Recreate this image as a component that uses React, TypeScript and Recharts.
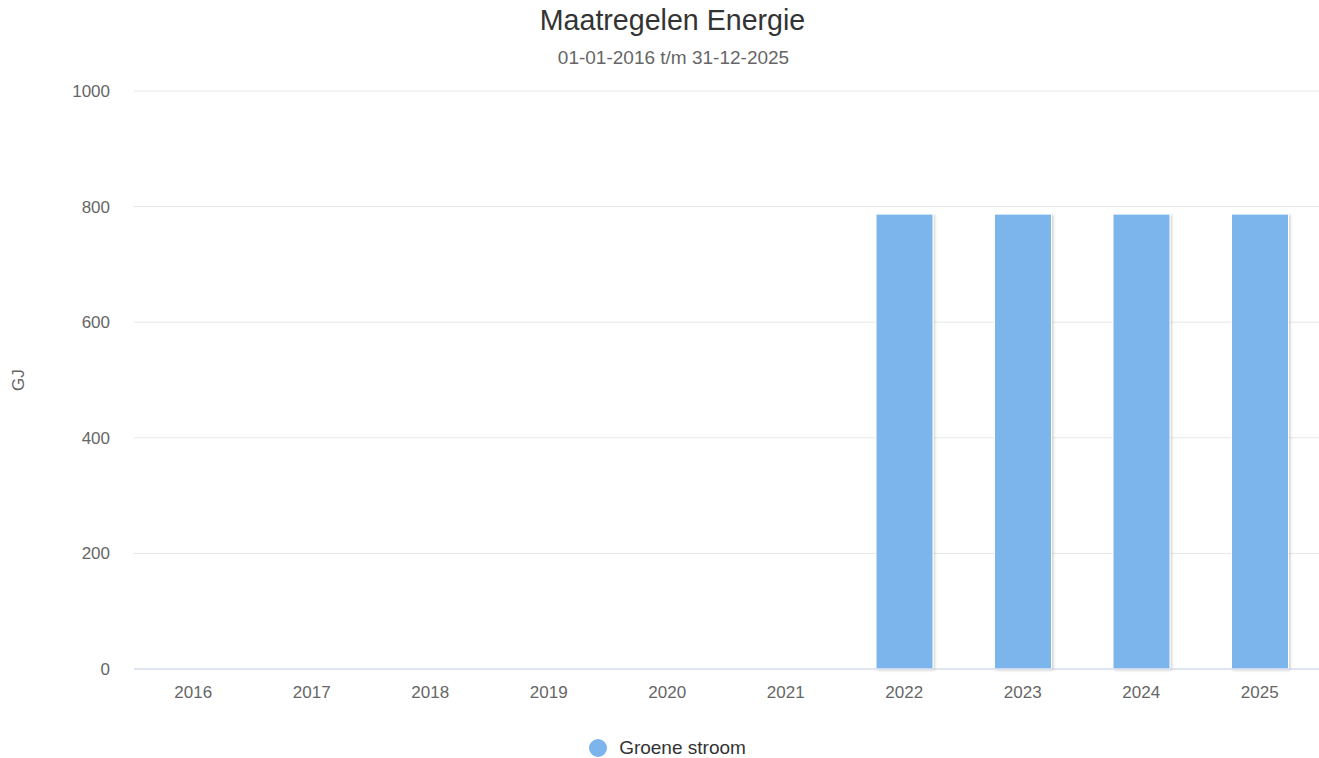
import { Bar, BarChart, CartesianGrid, XAxis, YAxis } from "recharts";

const years = ["2016", "2017", "2018", "2019", "2020", "2021", "2022", "2023", "2024", "2025"];
const groeneStroom = [0, 0, 0, 0, 0, 0, 787, 787, 787, 787];
const yTicks = [0, 200, 400, 600, 800, 1000];

const data = years.map((year, i) => ({ year, groene: groeneStroom[i] }));

const FONT = '"Liberation Sans", Arial, Helvetica, sans-serif';
const BAR_COLOR = "#7cb5ec";

export default function App() {
  return (
    <div
      style={{
        position: "absolute",
        top: 0,
        left: 0,
        width: 1319,
        height: 758,
        fontFamily: FONT,
        background: "#fff",
      }}
    >
      <div
        style={{
          position: "absolute",
          top: 4,
          left: 26,
          width: 1293,
          textAlign: "center",
          fontSize: 28.6,
          color: "#333333",
          lineHeight: "32px",
        }}
      >
        Maatregelen Energie
      </div>
      <div
        style={{
          position: "absolute",
          top: 47,
          left: 28,
          width: 1291,
          textAlign: "center",
          fontSize: 19,
          color: "#666666",
          lineHeight: "22px",
        }}
      >
        01-01-2016 t/m 31-12-2025
      </div>
      <BarChart
        width={1319}
        height={758}
        data={data}
        margin={{ top: 91, right: 0, bottom: 59, left: 0 }}
        barSize={57}
        style={{ fontFamily: FONT }}
      >
        <defs>
          <filter id="bar-shadow" x="-10%" y="-10%" width="130%" height="130%">
            <feDropShadow dx="1.5" dy="1" stdDeviation="0.8" floodColor="#000" floodOpacity="0.18" />
          </filter>
        </defs>
        <CartesianGrid vertical={false} stroke="#e6e6e6" />
        <XAxis
          dataKey="year"
          height={30}
          tickLine={false}
          tickSize={0}
          tickMargin={17}
          axisLine={{ stroke: "#ccd6eb" }}
          tick={{ fill: "#666666", fontSize: 17 }}
          interval={0}
        />
        <YAxis
          width={134}
          domain={[0, 1000]}
          ticks={yTicks}
          tickLine={false}
          axisLine={false}
          tickSize={0}
          tickMargin={24}
          tick={{ fill: "#666666", fontSize: 17 }}
          label={{
            content: ({ viewBox }: any) => {
              const cx = viewBox.x + 24;
              const cy = viewBox.y + viewBox.height / 2;
              return (
                <text
                  x={cx}
                  y={cy}
                  transform={`rotate(-90, ${cx}, ${cy})`}
                  textAnchor="middle"
                  fill="#666666"
                  fontSize={17}
                >
                  GJ
                </text>
              );
            },
          }}
        />
        <Bar
          dataKey="groene"
          name="Groene stroom"
          fill={BAR_COLOR}
          stroke="#ffffff"
          strokeWidth={1}
          filter="url(#bar-shadow)"
          isAnimationActive={false}
        />
      </BarChart>
      <div
        style={{
          position: "absolute",
          top: 737,
          left: 16,
          width: 1303,
          display: "flex",
          justifyContent: "center",
          alignItems: "center",
          gap: 12,
          fontSize: 19,
          lineHeight: "22px",
          color: "#333333",
        }}
      >
        <span
          style={{
            width: 18,
            height: 18,
            borderRadius: "50%",
            background: BAR_COLOR,
            display: "inline-block",
          }}
        />
        <span>Groene stroom</span>
      </div>
    </div>
  );
}
